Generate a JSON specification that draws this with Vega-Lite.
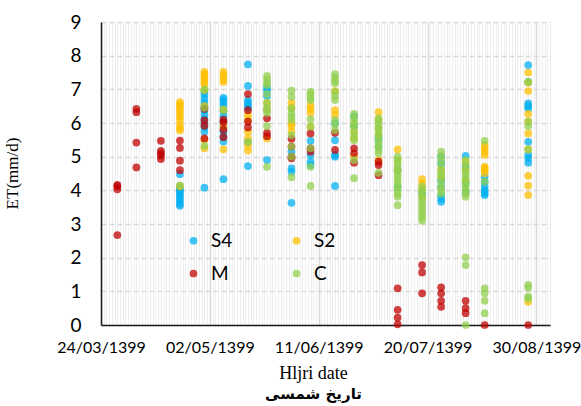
{
  "$schema": "https://vega.github.io/schema/vega-lite/v6.json",
  "autosize": {"type": "none"},
  "width": 449,
  "height": 303,
  "padding": {"left": 101, "top": 22, "right": 31, "bottom": 81},
  "background": "white",
  "title": {"text": "تاریخ شمسی", "orient": "bottom", "font": "DejaVu Sans", "fontWeight": "bold", "fontSize": 15, "color": "#000000", "anchor": "middle", "dx": -12, "offset": 5},
  "config": {"view": {"stroke": null}},
  "data": {"values": [
    {"d":29,"v":4.48,"s":"S4"},{"d":29,"v":4.1,"s":"S4"},{"d":29,"v":4.03,"s":"S4"},{"d":29,"v":3.97,"s":"S4"},{"d":29,"v":3.9,"s":"S4"},{"d":29,"v":3.83,"s":"S4"},{"d":29,"v":3.76,"s":"S4"},{"d":29,"v":3.68,"s":"S4"},{"d":29,"v":3.6,"s":"S4"},{"d":29,"v":3.54,"s":"S4"},
    {"d":38,"v":6.95,"s":"S4"},{"d":38,"v":6.85,"s":"S4"},{"d":38,"v":6.72,"s":"S4"},{"d":38,"v":6.6,"s":"S4"},{"d":38,"v":6.5,"s":"S4"},{"d":38,"v":6.38,"s":"S4"},{"d":38,"v":6.25,"s":"S4"},{"d":38,"v":6.12,"s":"S4"},{"d":38,"v":6.0,"s":"S4"},{"d":38,"v":5.88,"s":"S4"},{"d":38,"v":5.75,"s":"S4"},{"d":38,"v":4.08,"s":"S4"},
    {"d":45,"v":6.75,"s":"S4"},{"d":45,"v":6.68,"s":"S4"},{"d":45,"v":6.6,"s":"S4"},{"d":45,"v":6.5,"s":"S4"},{"d":45,"v":6.35,"s":"S4"},{"d":45,"v":6.2,"s":"S4"},{"d":45,"v":6.05,"s":"S4"},{"d":45,"v":5.9,"s":"S4"},{"d":45,"v":5.75,"s":"S4"},{"d":45,"v":5.6,"s":"S4"},{"d":45,"v":5.45,"s":"S4"},{"d":45,"v":4.33,"s":"S4"},
    {"d":54,"v":7.74,"s":"S4"},{"d":54,"v":7.1,"s":"S4"},{"d":54,"v":6.68,"s":"S4"},{"d":54,"v":6.6,"s":"S4"},{"d":54,"v":6.52,"s":"S4"},{"d":54,"v":6.45,"s":"S4"},{"d":54,"v":5.44,"s":"S4"},{"d":54,"v":4.72,"s":"S4"},
    {"d":61,"v":7.05,"s":"S4"},{"d":61,"v":6.95,"s":"S4"},{"d":61,"v":6.8,"s":"S4"},{"d":61,"v":6.4,"s":"S4"},{"d":61,"v":4.9,"s":"S4"},
    {"d":70,"v":5.15,"s":"S4"},{"d":70,"v":4.65,"s":"S4"},{"d":70,"v":4.55,"s":"S4"},{"d":70,"v":3.63,"s":"S4"},
    {"d":77,"v":5.47,"s":"S4"},{"d":77,"v":5.05,"s":"S4"},{"d":77,"v":4.85,"s":"S4"},{"d":77,"v":4.75,"s":"S4"},
    {"d":86,"v":6.0,"s":"S4"},{"d":86,"v":5.49,"s":"S4"},{"d":86,"v":5.05,"s":"S4"},{"d":86,"v":5.0,"s":"S4"},{"d":86,"v":4.13,"s":"S4"},
    {"d":93,"v":6.2,"s":"S4"},{"d":93,"v":5.9,"s":"S4"},
    {"d":102,"v":5.6,"s":"S4"},{"d":102,"v":5.49,"s":"S4"},{"d":102,"v":5.3,"s":"S4"},
    {"d":109,"v":4.6,"s":"S4"},{"d":109,"v":4.1,"s":"S4"},
    {"d":118,"v":3.9,"s":"S4"},
    {"d":125,"v":5.0,"s":"S4"},{"d":125,"v":4.8,"s":"S4"},{"d":125,"v":4.3,"s":"S4"},{"d":125,"v":4.1,"s":"S4"},{"d":125,"v":3.85,"s":"S4"},{"d":125,"v":3.75,"s":"S4"},{"d":125,"v":3.66,"s":"S4"},
    {"d":134,"v":5.02,"s":"S4"},{"d":134,"v":4.7,"s":"S4"},{"d":134,"v":4.2,"s":"S4"},{"d":134,"v":3.95,"s":"S4"},
    {"d":141,"v":4.4,"s":"S4"},{"d":141,"v":4.25,"s":"S4"},{"d":141,"v":4.11,"s":"S4"},{"d":141,"v":4.0,"s":"S4"},{"d":141,"v":3.92,"s":"S4"},{"d":141,"v":3.86,"s":"S4"},
    {"d":157,"v":7.72,"s":"S4"},{"d":157,"v":7.22,"s":"S4"},{"d":157,"v":6.58,"s":"S4"},{"d":157,"v":6.5,"s":"S4"},{"d":157,"v":6.43,"s":"S4"},{"d":157,"v":5.44,"s":"S4"},{"d":157,"v":5.05,"s":"S4"},{"d":157,"v":4.95,"s":"S4"},{"d":157,"v":4.82,"s":"S4"},

    {"d":29,"v":6.62,"s":"S2"},{"d":29,"v":6.55,"s":"S2"},{"d":29,"v":6.48,"s":"S2"},{"d":29,"v":6.4,"s":"S2"},{"d":29,"v":6.3,"s":"S2"},{"d":29,"v":6.2,"s":"S2"},{"d":29,"v":6.1,"s":"S2"},{"d":29,"v":5.95,"s":"S2"},{"d":29,"v":5.85,"s":"S2"},{"d":29,"v":5.78,"s":"S2"},{"d":29,"v":4.12,"s":"S2"},
    {"d":38,"v":7.52,"s":"S2"},{"d":38,"v":7.45,"s":"S2"},{"d":38,"v":7.38,"s":"S2"},{"d":38,"v":7.3,"s":"S2"},{"d":38,"v":7.22,"s":"S2"},{"d":38,"v":7.15,"s":"S2"},{"d":38,"v":6.98,"s":"S2"},{"d":38,"v":6.5,"s":"S2"},{"d":38,"v":5.5,"s":"S2"},{"d":38,"v":5.25,"s":"S2"},
    {"d":45,"v":7.52,"s":"S2"},{"d":45,"v":7.42,"s":"S2"},{"d":45,"v":7.3,"s":"S2"},{"d":45,"v":7.22,"s":"S2"},{"d":45,"v":6.4,"s":"S2"},{"d":45,"v":5.9,"s":"S2"},{"d":45,"v":5.22,"s":"S2"},
    {"d":54,"v":6.24,"s":"S2"},{"d":54,"v":6.1,"s":"S2"},{"d":54,"v":5.74,"s":"S2"},{"d":54,"v":5.54,"s":"S2"},{"d":54,"v":5.35,"s":"S2"},{"d":54,"v":5.18,"s":"S2"},
    {"d":61,"v":6.6,"s":"S2"},{"d":61,"v":6.4,"s":"S2"},{"d":61,"v":5.54,"s":"S2"},
    {"d":70,"v":6.6,"s":"S2"},{"d":70,"v":6.45,"s":"S2"},{"d":70,"v":6.0,"s":"S2"},{"d":70,"v":5.91,"s":"S2"},{"d":70,"v":5.75,"s":"S2"},
    {"d":77,"v":6.53,"s":"S2"},{"d":77,"v":6.42,"s":"S2"},{"d":77,"v":6.3,"s":"S2"},{"d":77,"v":5.89,"s":"S2"},
    {"d":86,"v":6.95,"s":"S2"},{"d":86,"v":6.38,"s":"S2"},{"d":86,"v":6.24,"s":"S2"},
    {"d":93,"v":5.74,"s":"S2"},{"d":93,"v":5.55,"s":"S2"},{"d":93,"v":5.0,"s":"S2"},
    {"d":102,"v":6.32,"s":"S2"},{"d":102,"v":6.1,"s":"S2"},{"d":102,"v":5.85,"s":"S2"},{"d":102,"v":5.65,"s":"S2"},{"d":102,"v":4.9,"s":"S2"},
    {"d":109,"v":5.22,"s":"S2"},{"d":109,"v":4.9,"s":"S2"},{"d":109,"v":4.6,"s":"S2"},
    {"d":118,"v":4.33,"s":"S2"},{"d":118,"v":4.2,"s":"S2"},{"d":118,"v":4.05,"s":"S2"},{"d":118,"v":3.8,"s":"S2"},
    {"d":125,"v":4.6,"s":"S2"},{"d":125,"v":4.4,"s":"S2"},
    {"d":134,"v":4.85,"s":"S2"},{"d":134,"v":4.6,"s":"S2"},{"d":134,"v":4.3,"s":"S2"},
    {"d":141,"v":5.35,"s":"S2"},{"d":141,"v":5.25,"s":"S2"},{"d":141,"v":5.15,"s":"S2"},{"d":141,"v":5.05,"s":"S2"},{"d":141,"v":4.7,"s":"S2"},{"d":141,"v":4.66,"s":"S2"},{"d":141,"v":4.6,"s":"S2"},{"d":141,"v":4.51,"s":"S2"},
    {"d":157,"v":7.5,"s":"S2"},{"d":157,"v":7.2,"s":"S2"},{"d":157,"v":6.95,"s":"S2"},{"d":157,"v":6.27,"s":"S2"},{"d":157,"v":6.04,"s":"S2"},{"d":157,"v":5.69,"s":"S2"},{"d":157,"v":5.22,"s":"S2"},{"d":157,"v":4.43,"s":"S2"},{"d":157,"v":4.14,"s":"S2"},{"d":157,"v":3.86,"s":"S2"},{"d":157,"v":0.69,"s":"S2"},

    {"d":6,"v":4.16,"s":"M"},{"d":6,"v":4.12,"s":"M"},{"d":6,"v":4.03,"s":"M"},{"d":6,"v":2.67,"s":"M"},
    {"d":13,"v":6.42,"s":"M"},{"d":13,"v":6.32,"s":"M"},{"d":13,"v":5.42,"s":"M"},{"d":13,"v":4.68,"s":"M"},
    {"d":22,"v":5.47,"s":"M"},{"d":22,"v":5.17,"s":"M"},{"d":22,"v":5.1,"s":"M"},{"d":22,"v":5.03,"s":"M"},{"d":22,"v":4.93,"s":"M"},
    {"d":29,"v":5.48,"s":"M"},{"d":29,"v":5.26,"s":"M"},{"d":29,"v":4.88,"s":"M"},{"d":29,"v":4.6,"s":"M"},
    {"d":38,"v":6.42,"s":"M"},{"d":38,"v":6.08,"s":"M"},{"d":38,"v":5.92,"s":"M"},{"d":38,"v":5.54,"s":"M"},
    {"d":45,"v":6.1,"s":"M"},{"d":45,"v":6.02,"s":"M"},{"d":45,"v":5.8,"s":"M"},{"d":45,"v":5.58,"s":"M"},
    {"d":54,"v":6.86,"s":"M"},{"d":54,"v":6.38,"s":"M"},{"d":54,"v":6.04,"s":"M"},{"d":54,"v":5.87,"s":"M"},
    {"d":61,"v":6.14,"s":"M"},{"d":61,"v":5.71,"s":"M"},{"d":61,"v":5.61,"s":"M"},
    {"d":70,"v":5.53,"s":"M"},{"d":70,"v":5.3,"s":"M"},{"d":70,"v":5.0,"s":"M"},{"d":70,"v":4.95,"s":"M"},
    {"d":77,"v":5.69,"s":"M"},{"d":77,"v":5.25,"s":"M"},{"d":77,"v":5.15,"s":"M"},
    {"d":86,"v":5.71,"s":"M"},{"d":86,"v":5.2,"s":"M"},
    {"d":93,"v":5.25,"s":"M"},{"d":93,"v":5.1,"s":"M"},{"d":93,"v":4.82,"s":"M"},
    {"d":102,"v":4.85,"s":"M"},{"d":102,"v":4.75,"s":"M"},{"d":102,"v":4.45,"s":"M"},
    {"d":109,"v":1.09,"s":"M"},{"d":109,"v":0.45,"s":"M"},{"d":109,"v":0.22,"s":"M"},{"d":109,"v":0.02,"s":"M"},
    {"d":118,"v":1.78,"s":"M"},{"d":118,"v":1.56,"s":"M"},{"d":118,"v":0.94,"s":"M"},
    {"d":125,"v":1.12,"s":"M"},{"d":125,"v":0.94,"s":"M"},{"d":125,"v":0.72,"s":"M"},{"d":125,"v":0.54,"s":"M"},
    {"d":134,"v":0.72,"s":"M"},{"d":134,"v":0.5,"s":"M"},{"d":134,"v":0.35,"s":"M"},
    {"d":141,"v":0.0,"s":"M"},
    {"d":157,"v":0.0,"s":"M"},

    {"d":29,"v":4.15,"s":"C"},
    {"d":38,"v":5.32,"s":"C"},{"d":38,"v":7.0,"s":"C"},{"d":38,"v":6.45,"s":"C"},
    {"d":45,"v":6.38,"s":"C"},
    {"d":54,"v":5.44,"s":"C"},
    {"d":61,"v":7.4,"s":"C"},{"d":61,"v":7.3,"s":"C"},{"d":61,"v":7.2,"s":"C"},{"d":61,"v":7.13,"s":"C"},{"d":61,"v":6.86,"s":"C"},{"d":61,"v":6.6,"s":"C"},{"d":61,"v":6.45,"s":"C"},{"d":61,"v":6.3,"s":"C"},{"d":61,"v":5.91,"s":"C"},{"d":61,"v":4.7,"s":"C"},
    {"d":70,"v":6.96,"s":"C"},{"d":70,"v":6.78,"s":"C"},{"d":70,"v":6.44,"s":"C"},{"d":70,"v":6.3,"s":"C"},{"d":70,"v":6.2,"s":"C"},{"d":70,"v":6.09,"s":"C"},{"d":70,"v":5.64,"s":"C"},{"d":70,"v":5.3,"s":"C"},{"d":70,"v":5.0,"s":"C"},{"d":70,"v":4.39,"s":"C"},
    {"d":77,"v":6.93,"s":"C"},{"d":77,"v":6.85,"s":"C"},{"d":77,"v":6.75,"s":"C"},{"d":77,"v":6.68,"s":"C"},{"d":77,"v":6.11,"s":"C"},{"d":77,"v":5.89,"s":"C"},{"d":77,"v":5.25,"s":"C"},{"d":77,"v":4.7,"s":"C"},{"d":77,"v":4.13,"s":"C"},
    {"d":86,"v":7.45,"s":"C"},{"d":86,"v":7.35,"s":"C"},{"d":86,"v":7.25,"s":"C"},{"d":86,"v":7.18,"s":"C"},{"d":86,"v":6.93,"s":"C"},{"d":86,"v":6.8,"s":"C"},{"d":86,"v":6.68,"s":"C"},{"d":86,"v":6.09,"s":"C"},{"d":86,"v":5.95,"s":"C"},{"d":86,"v":5.79,"s":"C"},
    {"d":93,"v":6.27,"s":"C"},{"d":93,"v":6.15,"s":"C"},{"d":93,"v":6.05,"s":"C"},{"d":93,"v":5.95,"s":"C"},{"d":93,"v":5.89,"s":"C"},{"d":93,"v":5.74,"s":"C"},{"d":93,"v":5.6,"s":"C"},{"d":93,"v":5.49,"s":"C"},{"d":93,"v":4.9,"s":"C"},{"d":93,"v":4.36,"s":"C"},
    {"d":102,"v":6.14,"s":"C"},{"d":102,"v":6.05,"s":"C"},{"d":102,"v":5.95,"s":"C"},{"d":102,"v":5.85,"s":"C"},{"d":102,"v":5.75,"s":"C"},{"d":102,"v":5.62,"s":"C"},{"d":102,"v":5.5,"s":"C"},{"d":102,"v":5.4,"s":"C"},{"d":102,"v":5.3,"s":"C"},{"d":102,"v":5.2,"s":"C"},{"d":102,"v":5.1,"s":"C"},{"d":102,"v":4.52,"s":"C"},
    {"d":109,"v":5.0,"s":"C"},{"d":109,"v":4.9,"s":"C"},{"d":109,"v":4.8,"s":"C"},{"d":109,"v":4.7,"s":"C"},{"d":109,"v":4.6,"s":"C"},{"d":109,"v":4.5,"s":"C"},{"d":109,"v":4.4,"s":"C"},{"d":109,"v":4.3,"s":"C"},{"d":109,"v":4.2,"s":"C"},{"d":109,"v":4.1,"s":"C"},{"d":109,"v":4.0,"s":"C"},{"d":109,"v":3.9,"s":"C"},{"d":109,"v":3.81,"s":"C"},{"d":109,"v":3.56,"s":"C"},
    {"d":118,"v":4.11,"s":"C"},{"d":118,"v":4.0,"s":"C"},{"d":118,"v":3.9,"s":"C"},{"d":118,"v":3.8,"s":"C"},{"d":118,"v":3.7,"s":"C"},{"d":118,"v":3.6,"s":"C"},{"d":118,"v":3.5,"s":"C"},{"d":118,"v":3.4,"s":"C"},{"d":118,"v":3.3,"s":"C"},{"d":118,"v":3.2,"s":"C"},{"d":118,"v":3.1,"s":"C"},
    {"d":125,"v":5.15,"s":"C"},{"d":125,"v":5.02,"s":"C"},{"d":125,"v":4.9,"s":"C"},{"d":125,"v":4.75,"s":"C"},{"d":125,"v":4.6,"s":"C"},{"d":125,"v":4.5,"s":"C"},{"d":125,"v":4.4,"s":"C"},{"d":125,"v":4.25,"s":"C"},{"d":125,"v":4.1,"s":"C"},{"d":125,"v":4.0,"s":"C"},{"d":125,"v":3.9,"s":"C"},
    {"d":134,"v":4.9,"s":"C"},{"d":134,"v":4.75,"s":"C"},{"d":134,"v":4.6,"s":"C"},{"d":134,"v":4.5,"s":"C"},{"d":134,"v":4.4,"s":"C"},{"d":134,"v":4.3,"s":"C"},{"d":134,"v":4.2,"s":"C"},{"d":134,"v":4.1,"s":"C"},{"d":134,"v":4.0,"s":"C"},{"d":134,"v":3.9,"s":"C"},{"d":134,"v":3.81,"s":"C"},{"d":134,"v":2.01,"s":"C"},{"d":134,"v":1.78,"s":"C"},{"d":134,"v":0.0,"s":"C"},
    {"d":141,"v":5.47,"s":"C"},{"d":141,"v":4.26,"s":"C"},{"d":141,"v":1.09,"s":"C"},{"d":141,"v":0.94,"s":"C"},{"d":141,"v":0.72,"s":"C"},{"d":141,"v":0.35,"s":"C"},
    {"d":157,"v":7.22,"s":"C"},{"d":157,"v":6.04,"s":"C"},{"d":157,"v":5.91,"s":"C"},{"d":157,"v":5.22,"s":"C"},{"d":157,"v":1.19,"s":"C"},{"d":157,"v":1.1,"s":"C"},{"d":157,"v":0.84,"s":"C"},{"d":157,"v":0.78,"s":"C"}
  ]},
  "resolve": {"axis": {"x": "independent"}},
  "layer": [
    {
      "mark": {"type": "tick", "opacity": 0},
      "encoding": {
        "x": {"field": "d", "type": "quantitative", "scale": {"domain": [0, 165], "nice": false, "zero": false},
              "axis": {"orient": "bottom", "tickCount": 165, "grid": true, "gridColor": "#eeeeee", "gridWidth": 1, "labels": false, "ticks": false, "domain": false, "title": null}}
      }
    },
    {
      "mark": {"type": "circle", "size": 60, "opacity": 0.74},
      "encoding": {
        "x": {"field": "d", "type": "quantitative", "scale": {"domain": [0, 165], "nice": false, "zero": false},
              "axis": {"orient": "bottom", "values": [0, 40, 80, 120, 160], "grid": true, "gridColor": "#d9d9d9", "gridWidth": 1.5,
                       "ticks": false, "domain": true, "domainColor": "#1a1a1a", "domainWidth": 1.5,
                       "labelExpr": "datum.value == 0 ? '24/03/1399' : datum.value == 40 ? '02/05/1399' : datum.value == 80 ? '11/06/1399' : datum.value == 120 ? '20/07/1399' : '30/08/1399'",
                       "labelFont": "Lato", "labelFontSize": 16, "labelColor": "#000000", "labelPadding": 14, "labelFlush": false,
                       "title": "Hljri date", "titleFont": "Liberation Serif", "titleFontSize": 18, "titleFontWeight": "normal", "titleColor": "#000000",
                       "titleX": 212, "titleY": 48, "titleBaseline": "middle", "titleAlign": "center"}},
        "y": {"field": "v", "type": "quantitative", "scale": {"domain": [0, 9], "nice": false},
              "axis": {"orient": "left", "values": [0,1,2,3,4,5,6,7,8,9], "labelOverlap": false, "grid": true, "gridColor": "#d9d9d9", "gridWidth": 1.5, "gridDash": [5, 3],
                       "ticks": false, "domain": true, "domainColor": "#1a1a1a", "domainWidth": 1.5,
                       "labelFont": "Lato", "labelFontSize": 19, "labelColor": "#000000", "labelPadding": 20,
                       "title": "ET(mm/d)", "titleFont": "Liberation Serif", "titleFontSize": 17, "titleFontWeight": "normal", "titleColor": "#000000",
                       "titleX": -89, "titleY": 151, "titleAngle": -90, "titleBaseline": "middle", "titleAlign": "center"}},
        "color": {"field": "s", "type": "nominal",
                  "scale": {"domain": ["S4", "S2", "M", "C"], "range": ["#00B0F0", "#FFC000", "#C00000", "#92D050"]},
                  "legend": {"title": null, "orient": "none", "legendX": 83, "legendY": 209, "columns": 2, "direction": "horizontal",
                             "columnPadding": 54, "rowPadding": 13, "symbolType": "circle", "symbolSize": 60, "symbolOpacity": 0.74, "symbolStrokeWidth": 0,
                             "labelFont": "Lato", "labelFontSize": 19, "labelColor": "#000000", "labelOffset": 8, "padding": 0}}
      }
    }
  ]
}
